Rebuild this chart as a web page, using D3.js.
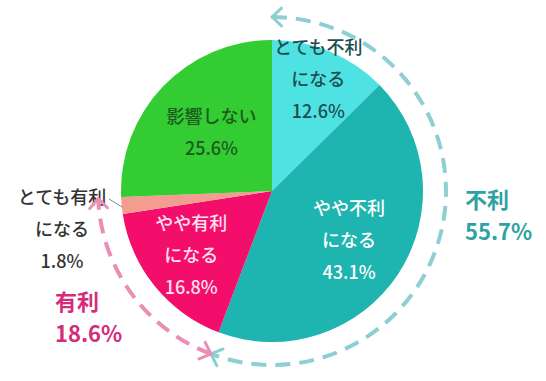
<!DOCTYPE html>
<html><head><meta charset="utf-8">
<script src="https://cdn.jsdelivr.net/npm/d3@7"></script>
<style>
html,body{margin:0;padding:0;background:#fff;}
svg{display:block;font-family:"Noto Sans CJK JP","Noto Sans",sans-serif;}
</style></head>
<body><svg id="c" width="546" height="381"></svg>
<script>
// ---- data ----
const categories = ["とても不利になる", "やや不利になる", "やや有利になる", "とても有利になる", "影響しない"];
const values = [12.6, 43.1, 16.8, 1.8, 25.6];
const labelLines = [["とても不利", "になる", "12.6%"], ["やや不利", "になる", "43.1%"], ["やや有利", "になる", "16.8%"], ["とても有利", "になる", "1.8%"], ["影響しない", "25.6%"]];
const colors = ["#4fe2e2", "#1eb4b0", "#f30e6b", "#f59c90", "#33cc33"];
const textColors = ["#1c4d4f", "#ffffff", "#ffe0ee", "#333333", "#1d5a1d"];
const groupNames = ["不利", "有利"];
const groupValues = [55.7, 18.6];
const groupColors = ["#8dcfd2", "#eb8db5"];
const groupTextColors = ["#2ea2a2", "#d62c78"];

// ---- layout ----
const svg = d3.select("#c");
const cx = 272, cy = 191, R = 151, RD = 174;
const g = svg.append("g").attr("transform", `translate(${cx},${cy})`);
const pie = d3.pie().sort(null).value(d => d);
const arcs = pie(values);
const arc = d3.arc().innerRadius(0).outerRadius(R);
g.selectAll("path.s").data(arcs).enter().append("path")
  .attr("class", "s").attr("d", arc).attr("fill", (d, i) => colors[i]);

// label anchors: radius offsets from the pie centre
const labelPlace = [
  {r: 120},
  {r: 92},
  {r: 104},
  {x: -210, y: 39},
  {r: 84}
];
const lineH = 32;
arcs.forEach((a, i) => {
  const p = labelPlace[i];
  let x, y;
  if (p.r) {
    const m = (a.startAngle + a.endAngle) / 2;
    x = p.r * Math.sin(m); y = -p.r * Math.cos(m);
  } else { x = p.x; y = p.y; }
  const lines = labelLines[i];
  const t = g.append("text").attr("text-anchor", "middle")
    .attr("font-size", 18).attr("fill", textColors[i])
    .attr("font-weight", 500);
  lines.forEach((s, k) => {
    t.append("tspan").attr("x", x)
      .attr("y", y + (k - (lines.length - 1) / 2) * lineH + 6)
      .text(s);
  });
});

// leader line for the small slice
{
  const a = arcs[3];
  const m = (a.startAngle + a.endAngle) / 2;
  g.append("line")
    .attr("x1", -163).attr("y1", 8)
    .attr("x2", (R - 1) * Math.sin(m)).attr("y2", -(R - 1) * Math.cos(m) + 2)
    .attr("stroke", "#666").attr("stroke-width", 0.8);
}

// dashed group arcs with arrowheads
const ang = d3.scaleLinear().domain([0, 100]).range([0, 2 * Math.PI]);
let start = 0;
groupValues.forEach((v, i) => {
  const a0 = ang(start), a1 = ang(start + v);
  const p = d3.path();
  p.arc(0, 0, RD, a0 - Math.PI / 2, a1 - Math.PI / 2, false);
  g.append("path").attr("d", p.toString()).attr("fill", "none")
    .attr("stroke", groupColors[i]).attr("stroke-width", 4)
    .attr("stroke-dasharray", "15,9");
  // arrowheads
  [[a0, -1], [a1, 1]].forEach(([th, dir]) => {
    const tx = RD * Math.sin(th), ty = -RD * Math.cos(th);
    const ux = dir * Math.cos(th), uy = dir * Math.sin(th);
    const L = 13, al = 0.75;
    [al, -al].forEach(s => {
      const rx = ux * Math.cos(s) - uy * Math.sin(s);
      const ry = ux * Math.sin(s) + uy * Math.cos(s);
      g.append("line").attr("x1", tx).attr("y1", ty)
        .attr("x2", tx - L * rx).attr("y2", ty - L * ry)
        .attr("stroke", groupColors[i]).attr("stroke-width", 3)
        .attr("stroke-linecap", "round");
    });
  });
  start += v;
});

// group totals
const gl = [{x: 465, y: 208}, {x: 55, y: 310}];
groupNames.forEach((n, i) => {
  const t = svg.append("text").attr("font-size", 22).attr("font-weight", 700)
    .attr("fill", groupTextColors[i]);
  t.append("tspan").attr("x", gl[i].x).attr("y", gl[i].y).text(n);
  t.append("tspan").attr("x", gl[i].x).attr("y", gl[i].y + 32).text(groupValues[i].toFixed(1) + "%");
});
</script></body></html>
